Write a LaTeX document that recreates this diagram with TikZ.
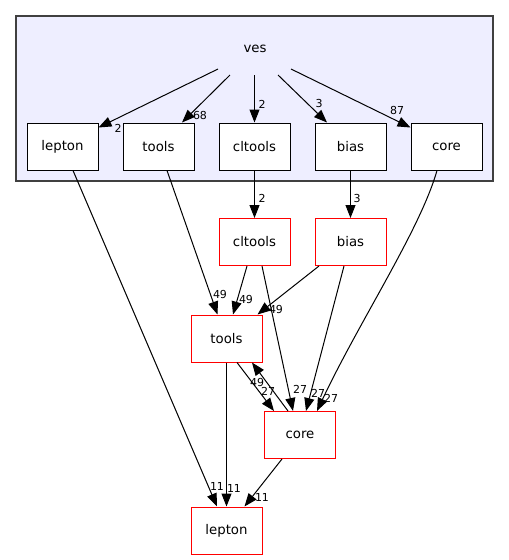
\documentclass[tikz,border=0pt]{standalone}
\usepackage{fontspec}
\setmainfont{DejaVu Sans}
\usetikzlibrary{calc,arrows.meta}
\definecolor{clfill}{HTML}{EEEEFF}
\definecolor{clborder}{HTML}{404040}
\tikzset{
  topbox/.style={draw=black,fill=white,line width=1pt,minimum width=71pt,minimum height=47pt,inner sep=0pt,font=\fontsize{13.3}{15}\selectfont},
  redbox/.style={draw=red,fill=white,line width=1pt,minimum width=71pt,minimum height=47pt,inner sep=0pt,font=\fontsize{13.3}{15}\selectfont},
  edge/.style={draw=black,line width=1pt,-{Triangle[length=13pt,width=10pt]}},
  elabel/.style={inner sep=0pt,font=\fontsize{11}{13}\selectfont}
}
\begin{document}
\begin{tikzpicture}[x=1pt,y=-1pt]
\useasboundingbox (0,0) rectangle (509,560);
\draw[fill=clfill,draw=clborder,line width=1.2pt] (16,16) rectangle (493,181);
\node[inner sep=0pt,font=\fontsize{13.3}{15}\selectfont] (ves) at (255,49) {ves};
\node[topbox] (tlepton) at (62.5,146.5) {lepton};
\node[topbox] (ttools) at (158.5,146.5) {tools};
\node[topbox] (tcltools) at (254.5,146.5) {cltools};
\node[topbox] (tbias) at (350.5,146.5) {bias};
\node[topbox] (tcore) at (446.5,146.5) {core};
\node[redbox] (rcltools) at (254.5,242) {cltools};
\node[redbox] (rbias) at (350.5,242) {bias};
\node[redbox] (rtools) at (226.5,338.5) {tools};
\node[redbox] (rcore) at (300,435) {core};
\node[redbox] (rlepton) at (226.5,530.5) {lepton};
% ves edges
\draw[edge] ($(ves)+(-37,20)$) -- ([yshift=-5pt]tlepton.north east);
\draw[edge] ($(ves)+(-25,26)$) -- ([xshift=23.5pt]ttools.north);
\draw[edge] ($(ves)+(-0.5,26)$) -- (tcltools.north);
\draw[edge] ($(ves)+(23,26)$) -- ([xshift=-23.5pt]tbias.north);
\draw[edge] ($(ves)+(36,20)$) -- ([yshift=-5pt]tcore.north west);
\node[elabel] (l1) at (118,128) {2};
\node[elabel] (l2) at (200,115) {68};
\node[elabel] (l3) at (262,104) {2};
\node[elabel] (l4) at (319,103) {3};
\node[elabel] (l5) at (397,110) {87};
% lower edges
\draw[edge] ([xshift=10.5pt]tlepton.south) -- ([xshift=-9.5pt]rlepton.north);
\draw[edge] ([xshift=8.5pt]ttools.south) -- ([xshift=-9pt]rtools.north);
\draw[edge] (tcltools.south) -- (rcltools.north);
\draw[edge] (tbias.south) -- (rbias.north);
\draw[edge] ([xshift=-9.5pt]tcore.south) .. controls (420,230) and (360,320) .. ([xshift=17pt]rcore.north);
\draw[edge] ([xshift=-7.5pt]rcltools.south) -- ([xshift=6.5pt]rtools.north);
\draw[edge] ([xshift=-31.5pt]rbias.south) -- ([xshift=31pt]rtools.north);
\draw[edge] ([xshift=7.5pt]rcltools.south) -- ([xshift=-7pt]rcore.north);
\draw[edge] ([xshift=-6.5pt]rbias.south) -- ([xshift=6pt]rcore.north);
\draw[edge] ([xshift=10.5pt]rtools.south) -- ([xshift=-26pt]rcore.north);
\draw[edge] ([xshift=-12pt]rcore.north) -- ([xshift=25.5pt]rtools.south);
\draw[edge] (rtools.south) -- (rlepton.north);
\draw[edge] ([xshift=-18pt]rcore.south) -- ([xshift=18pt]rlepton.north);
\node[elabel] (l6) at (262,198) {2};
\node[elabel] (l7) at (357,198) {3};
\node[elabel] (l8) at (220,294) {49};
\node[elabel] (l9) at (246,299) {49};
\node[elabel] (l10) at (276,309) {49};
\node[elabel] (l11) at (257,382) {49};
\node[elabel] (l12) at (268,391) {27};
\node[elabel] (l13) at (300,389) {27};
\node[elabel] (l14) at (318,393) {27};
\node[elabel] (l15) at (331,398) {27};
\node[elabel] (l16) at (217,486) {11};
\node[elabel] (l17) at (234,488) {11};
\node[elabel] (l18) at (262,497) {11};
\end{tikzpicture}
\end{document}
